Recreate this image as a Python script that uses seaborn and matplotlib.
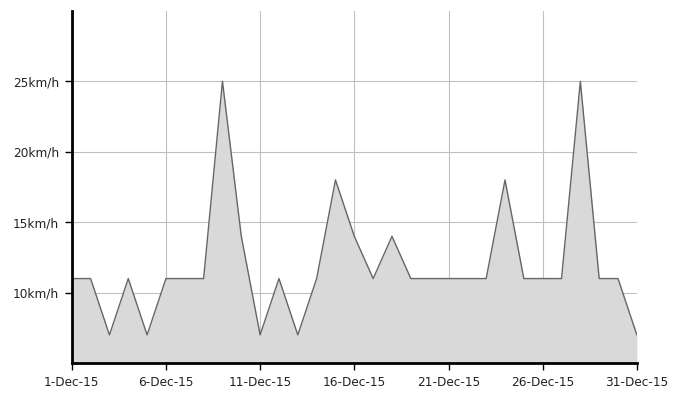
import pandas as pd
import seaborn as sns
import matplotlib.pyplot as plt
import matplotlib.dates as mdates
import matplotlib.ticker as mticker

# daily wind speed, December 2015
days = pd.date_range('2015-12-01', '2015-12-31', freq='D')
speed = [11, 11, 7, 11, 7, 11, 11, 11, 25, 14,
         7, 11, 7, 11, 18, 14, 11, 14, 11, 11,
         11, 11, 11, 18, 11, 11, 11, 25, 11, 11, 7]

df = pd.DataFrame({'date': days, 'speed': speed})

sns.set_style('white')
plt.rcParams['font.family'] = ['DejaVu Sans']

fig = plt.figure(figsize=(6.9, 4.03), dpi=100)
ax = fig.add_axes([0.104, 0.099, 0.819, 0.874])

ax.fill_between(df['date'], 5, df['speed'], color='#d9d9d9', lw=0, zorder=1)
sns.lineplot(data=df, x='date', y='speed', ax=ax, color='#666666', lw=1, zorder=3)

ax.set_xlim(days[0], days[-1])
ax.set_ylim(5, 30)

ax.set_yticks([10, 15, 20, 25])
ax.yaxis.set_major_formatter(mticker.FuncFormatter(lambda v, p: f'{v:.0f}km/h'))
ticks = pd.date_range('2015-12-01', '2015-12-31', freq='5D')
ax.set_xticks(ticks)
ax.xaxis.set_major_formatter(mdates.DateFormatter('%-d-%b-%y'))

ax.grid(True, color='#c0c0c0', lw=0.8)
for gl in ax.get_xgridlines() + ax.get_ygridlines():
    gl.set_zorder(2)
# no vertical grid line at the right edge
ax.get_xgridlines()[-1].set_visible(False)

ax.set_xlabel('')
ax.set_ylabel('')
ax.tick_params(axis='both', which='major', length=5, width=1, color='black',
               labelsize=8.7, labelcolor='#222222', direction='out', pad=4)
ax.tick_params(left=True, bottom=True)

for s in ['top', 'right']:
    ax.spines[s].set_visible(False)
for s in ['left', 'bottom']:
    ax.spines[s].set_linewidth(2)
    ax.spines[s].set_color('black')
    ax.spines[s].set_zorder(5)

fig.savefig('out.png', dpi=100)
